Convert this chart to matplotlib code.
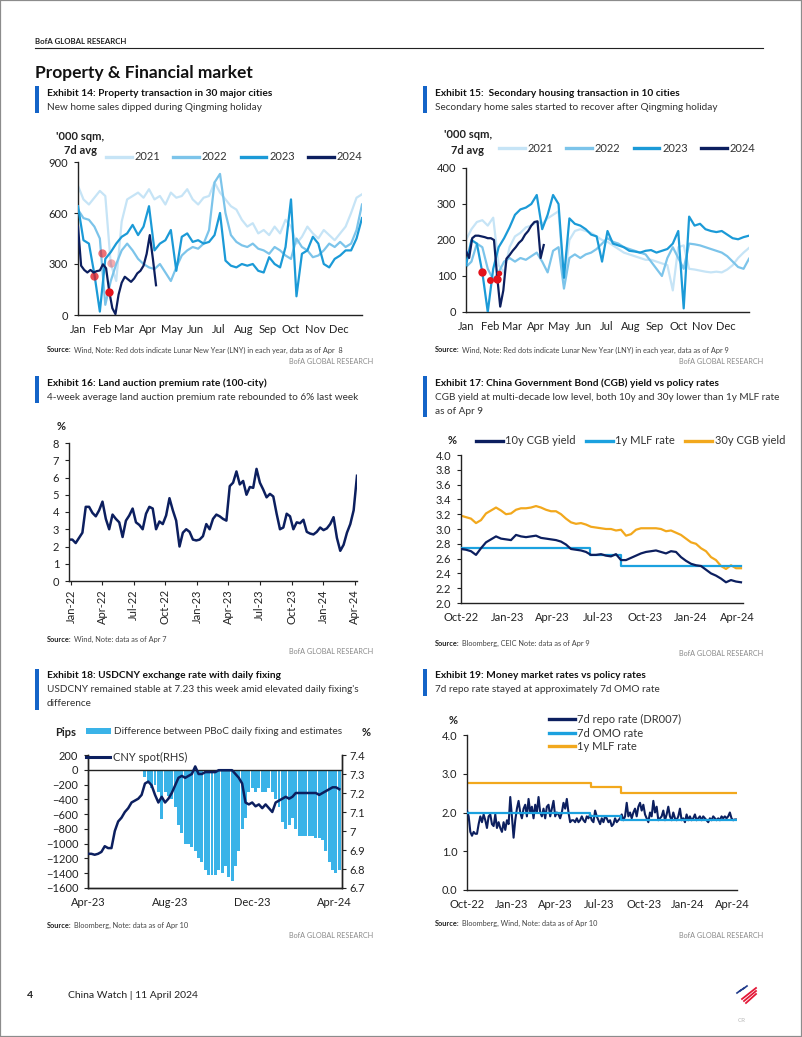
import matplotlib
matplotlib.use("Agg")
import numpy as np
import pandas as pd
import matplotlib.pyplot as plt
import matplotlib.dates as mdates
from matplotlib.patches import Rectangle, Patch
from matplotlib.lines import Line2D
from matplotlib.ticker import FuncFormatter

# ---------------- data ----------------
# Exhibit 14: new home sales, 30 cities, '000 sqm 7d avg (weekly samples, 2024 every 4 days)
prop_2021 = [760, 680, 650, 690, 730, 700, 300, 200, 550, 680, 700, 720, 690, 740, 680, 700, 650, 720,
             690, 700, 740, 680, 650, 690, 700, 780, 720, 680, 640, 620, 560, 520, 540, 480, 500, 470,
             520, 480, 560, 520, 420, 460, 520, 480, 450, 500, 470, 440, 480, 520, 600, 690, 710]
prop_2022 = [620, 570, 560, 520, 450, 60, 200, 300, 380, 420, 380, 330, 300, 280, 270, 300, 250, 200,
             280, 350, 380, 400, 390, 420, 500, 780, 830, 600, 470, 430, 410, 400, 420, 390, 380, 360,
             400, 380, 350, 330, 450, 400, 380, 340, 350, 380, 420, 400, 430, 400, 420, 500, 650]
prop_2023 = [640, 440, 420, 240, 20, 330, 370, 420, 460, 480, 530, 470, 520, 640, 380, 420, 440, 500,
             260, 460, 480, 430, 440, 420, 430, 470, 600, 320, 290, 280, 300, 290, 300, 260, 250, 340,
             300, 280, 400, 680, 110, 360, 380, 460, 420, 300, 280, 330, 350, 380, 380, 450, 570]
prop_2024 = [520, 290, 265, 250, 265, 250, 258, 262, 298, 275, 140, 40, 5, 120, 190, 225, 210, 195,
             215, 245, 260, 290, 360, 470, 330, 175]
lny_days = ["2023-02-12", "2023-02-01", "2023-01-22", "2023-02-10"]   # LNY of 2021..2024 on one calendar
lny_prop = [303, 362, 231, 137]

# Exhibit 15: secondary housing, 10 cities
sec_2021 = [200, 230, 250, 255, 240, 262, 130, 110, 180, 210, 220, 235, 240, 250, 245, 260, 270, 280,
            80, 200, 225, 230, 225, 220, 210, 200, 195, 185, 175, 165, 160, 155, 150, 145, 145, 140,
            135, 130, 60, 180, 185, 120, 118, 115, 112, 110, 112, 110, 118, 130, 150, 165, 178]
sec_2022 = [125, 140, 190, 180, 120, 90, 110, 140, 150, 140, 150, 145, 155, 165, 140, 110, 170, 180,
            65, 150, 160, 150, 160, 165, 175, 190, 205, 195, 190, 180, 175, 170, 165, 160, 140, 120,
            100, 150, 180, 150, 120, 190, 188, 185, 180, 175, 170, 165, 155, 140, 125, 120, 148]
sec_2023 = [130, 200, 190, 110, 0, 120, 180, 205, 235, 270, 285, 290, 300, 325, 230, 270, 325, 300,
            95, 260, 245, 240, 230, 215, 210, 140, 225, 190, 185, 180, 170, 168, 165, 170, 172, 165,
            170, 175, 190, 225, 10, 265, 240, 245, 230, 225, 222, 225, 215, 205, 202, 208, 212]
sec_2024 = [170, 150, 205, 212, 212, 210, 208, 205, 205, 200, 100, 15, 60, 148, 158, 170, 180, 192,
            200, 215, 225, 240, 250, 252, 150, 186]
lny_sec = [107, 90, 112, 92]
years = ["2021", "2022", "2023", "2024"]

# Exhibit 16: land auction premium rate, %, 4w avg
land_premium = [2.4, 2.4, 2.2, 2.5, 2.8, 4.3, 4.3, 3.95, 3.75, 4.1, 4.6, 3.6, 3.0, 3.85, 3.6, 3.4, 2.55,
                3.5, 3.8, 4.2, 3.4, 3.25, 3.0, 3.9, 4.3, 4.2, 3.0, 3.45, 3.3, 3.8, 4.8, 4.1, 3.5, 2.0,
                2.8, 3.0, 2.85, 2.4, 2.35, 2.4, 2.6, 3.3, 3.0, 3.6, 3.85, 3.75, 3.6, 3.5, 5.5, 5.7,
                6.35, 5.6, 5.8, 5.0, 5.45, 5.4, 6.5, 5.7, 5.3, 4.85, 5.05, 4.9, 3.9, 3.0, 3.1, 3.9,
                3.75, 3.0, 3.4, 3.35, 3.55, 2.85, 2.75, 2.7, 2.85, 3.1, 2.95, 3.05, 3.3, 3.7, 2.5,
                1.75, 2.1, 2.8, 3.3, 4.1, 6.1]

# Exhibit 17: CGB yields vs MLF, %
cgb_10y = [2.73, 2.72, 2.70, 2.65, 2.74, 2.82, 2.86, 2.90, 2.87, 2.86, 2.85, 2.92, 2.90, 2.89, 2.90,
           2.91, 2.88, 2.87, 2.86, 2.85, 2.83, 2.79, 2.73, 2.72, 2.71, 2.69, 2.65, 2.65, 2.66, 2.64,
           2.63, 2.66, 2.58, 2.58, 2.61, 2.64, 2.67, 2.69, 2.70, 2.71, 2.69, 2.67, 2.70, 2.69, 2.62,
           2.57, 2.53, 2.51, 2.50, 2.45, 2.40, 2.37, 2.33, 2.28, 2.31, 2.29, 2.28]
cgb_30y = [3.18, 3.16, 3.14, 3.08, 3.12, 3.21, 3.25, 3.29, 3.25, 3.20, 3.21, 3.26, 3.28, 3.28, 3.29,
           3.31, 3.29, 3.26, 3.24, 3.24, 3.20, 3.14, 3.09, 3.07, 3.08, 3.06, 3.03, 3.02, 3.01, 3.00,
           3.00, 2.98, 2.99, 2.91, 2.93, 2.99, 3.01, 3.01, 3.01, 3.01, 3.00, 2.97, 2.98, 2.95, 2.92,
           2.87, 2.82, 2.80, 2.74, 2.70, 2.62, 2.58, 2.50, 2.46, 2.51, 2.47, 2.47]
mlf_dates = ["2022-10-01", "2023-06-15", "2023-08-15", "2024-04-10"]
mlf_rate = [2.75, 2.65, 2.50, 2.50]

# Exhibit 18: USDCNY and fixing gap
fix_gap = [0, 0, -5, 0, 0, -5, 0, 0, -5, 0, 0, 0, -5, 0, 0, -5, 0,
           -100, -150, -250, -200, -300, -660, -300, -350, -400, -500, -750, -850, -1000, -1000,
           -1050, -1100, -1200, -1250, -1350, -1420, -1420, -1420, -1350, -1400, -1300, -1450, -1500,
           -1300, -1100, -800, -650, -300, -250, -300, -250, -300, -300, -250, -300, -400, -500,
           -700, -800, -750, -650, -800, -900, -900, -900, -900, -900, -920, -920, -950, -1100,
           -1250, -1350, -1400, -1350]
cny_spot = [6.88, 6.88, 6.875, 6.88, 6.89, 6.92, 6.91, 6.91, 7.00, 7.05, 7.07, 7.10, 7.12, 7.15, 7.16,
            7.17, 7.19, 7.25, 7.26, 7.24, 7.19, 7.15, 7.18, 7.15, 7.17, 7.20, 7.24, 7.28, 7.29, 7.28,
            7.29, 7.30, 7.34, 7.30, 7.30, 7.31, 7.31, 7.31, 7.31, 7.32, 7.32, 7.32, 7.32, 7.32, 7.30,
            7.28, 7.25, 7.15, 7.14, 7.15, 7.13, 7.14, 7.12, 7.14, 7.12, 7.10, 7.15, 7.16, 7.17, 7.18,
            7.17, 7.18, 7.20, 7.20, 7.20, 7.20, 7.20, 7.20, 7.20, 7.19, 7.20, 7.21, 7.22, 7.23, 7.23,
            7.22]

# Exhibit 19: money market rates, %
dr007 = [2.05, 1.9, 1.5, 1.4, 1.5, 1.45, 1.45, 1.7, 1.9, 1.75, 1.95, 1.8, 1.6, 1.9, 1.95, 1.7, 1.65,
         1.95, 1.6, 1.75, 1.6, 1.5, 1.75, 1.55, 1.8, 1.7, 2.4, 1.9, 1.35, 1.8, 2.1, 2.3, 2.0, 1.85,
         2.1, 2.2, 1.9, 2.35, 2.0, 2.15, 1.85, 2.2, 2.0, 2.4, 2.0, 1.9, 2.1, 1.85, 2.15, 2.2, 1.9,
         2.1, 2.3, 1.9, 2.0, 1.95, 1.85, 2.0, 2.25, 2.1, 2.35, 2.0, 1.75, 1.8, 1.8, 1.75, 1.85, 1.75,
         1.8, 1.9, 1.8, 1.75, 1.9, 1.85, 1.95, 1.8, 1.75, 2.05, 1.9, 1.8, 1.7, 1.85, 1.75, 1.9,
         1.85, 1.75, 1.8, 1.65, 1.7, 1.85, 1.75, 1.8, 1.85, 1.95, 1.8, 1.9, 2.25, 1.9, 2.0, 1.85,
         2.0, 2.1, 1.9, 2.15, 2.25, 2.05, 2.2, 1.95, 1.85, 1.75, 2.0, 1.9, 2.3, 2.0, 2.15, 1.8,
         1.85, 1.9, 2.05, 1.8, 1.95, 2.15, 1.9, 1.8, 2.0, 1.85, 1.8, 1.9, 2.1, 1.8, 1.85, 1.75,
         1.95, 1.8, 1.9, 1.8, 1.85, 1.95, 1.8, 1.85, 1.9, 1.8, 1.9, 1.85, 1.8, 1.75, 1.85, 1.8,
         1.9, 1.85, 1.8, 1.85, 1.8, 1.9, 1.85, 1.9, 1.85, 1.9, 2.0, 1.85, 1.8, 1.82, 1.82]
omo_dates = ["2022-10-01", "2023-06-13", "2023-08-15", "2024-04-10"]
omo_rate = [2.00, 1.90, 1.80, 1.80]

# ---------------- styling ----------------
plt.rcParams["font.family"] = ["Lato", "DejaVu Sans"]
NAVY = "#0c1f5f"
MID = "#1b9ad7"
LIGHT = "#7cc4ea"
PALE = "#c6e4f6"
BRIGHT = "#1ba1df"
ORANGE = "#f2a81d"
BARBLUE = "#3ab3e8"
EXBAR = "#1464c8"
INK = "#222222"
GREY = "#8a8a8a"

W, H = 802, 1037
fig = plt.figure(figsize=(W / 100, H / 100), dpi=100)
renderer = fig.canvas.get_renderer()


def fx(x):
    return x / W


def fy(y):
    return 1 - y / H


def box(l, t, r, b):
    return [l / W, 1 - b / H, (r - l) / W, (b - t) / H]


def txt(x, y, s, **kw):
    kw.setdefault("va", "center")
    kw.setdefault("color", INK)
    return fig.text(fx(x), fy(y), s, **kw)


def exhibit(x, y, title, subs):
    n = len(subs)
    top, bot = y - 7, y + 14 * n + 6
    fig.add_artist(Rectangle((fx(x - 12), fy(bot)), 4 / W, (bot - top) / H,
                             transform=fig.transFigure, color=EXBAR, lw=0))
    txt(x, y, title, fontsize=7.3, fontweight="bold", color="#111111")
    for i, s in enumerate(subs):
        txt(x, y + 14 * (i + 1), s, fontsize=7.2, color="#333333")


def source(x, y, rest):
    t = txt(x, y, "Source:", fontsize=5.3, fontweight="bold")
    bb = t.get_window_extent(renderer)
    fig.text((bb.x1 + 2) / W, fy(y), rest, fontsize=5.3, va="center", color="#444444")


def credit(xr, y):
    txt(xr, y, "BofA GLOBAL RESEARCH", ha="right", fontsize=5.2, color=GREY)


def style(ax, right=False):
    ax.spines["top"].set_visible(False)
    ax.spines["right"].set_visible(right)
    for s in ax.spines.values():
        s.set_color(INK)
        s.set_linewidth(1.0)
    ax.tick_params(labelsize=8, length=3, width=0.8, pad=4, colors=INK)
    ax.set_facecolor("none")


def leg(handles, labels, x, y, ncol, **kw):
    opts = dict(loc="center left", bbox_to_anchor=(fx(x), fy(y)), frameon=False, fontsize=8,
                handlelength=2.3, handletextpad=0.25, columnspacing=1.2, borderpad=0,
                borderaxespad=0, labelcolor="#333333")
    opts.update(kw)
    return fig.legend(handles, labels, ncol=ncol, **opts)


# ---------------- page furniture ----------------
fig.add_artist(Rectangle((0, 0), 1, 1, fill=False, edgecolor="#8c8c8c", lw=1.6,
                         transform=fig.transFigure))
txt(35, 41, "BofA GLOBAL RESEARCH", fontsize=5.6, fontweight="bold")
fig.add_artist(Line2D([fx(35), fx(763)], [fy(48), fy(48)], color=INK, lw=0.8))
txt(35, 73, "Property & Financial market", fontsize=12.5, fontweight="bold", color="#111111")

# ---------------- Exhibit 14 ----------------
exhibit(47, 93, "Exhibit 14: Property transaction in 30 major cities",
        ["New home sales dipped during Qingming holiday"])
ax = fig.add_axes(box(78, 162, 362, 315))
style(ax)
weekly = lambda v: pd.date_range("2023-01-01", periods=len(v), freq="7D")
four = lambda v: pd.date_range("2023-01-01", periods=len(v), freq="4D")
for vals, c, z in ((prop_2021, PALE, 1), (prop_2022, LIGHT, 2), (prop_2023, MID, 3)):
    ax.plot(weekly(vals), vals, color=c, lw=1.6, zorder=z)
ax.plot(four(prop_2024), prop_2024, color=NAVY, lw=1.6, zorder=5)
for d, v, a, z in zip(lny_days, lny_prop, (0.35, 0.6, 0.75, 1.0), (1.5, 2.5, 3.5, 6)):
    ax.plot(pd.Timestamp(d), v, "o", color="#e3121b", alpha=a, ms=6, mec="none", zorder=z)
months = pd.date_range("2023-01-01", "2023-12-01", freq="MS")
ax.set_xlim(pd.Timestamp("2023-01-01"), pd.Timestamp("2023-12-31"))
ax.set_ylim(0, 900)
ax.set_yticks([0, 300, 600, 900])
ax.set_xticks(months)
ax.xaxis.set_major_formatter(mdates.DateFormatter("%b"))
ax.tick_params(axis="x", length=0, pad=6.5)
txt(80, 137, "'000 sqm,", ha="center", fontsize=8, fontweight="bold")
txt(80, 151, "7d avg", ha="center", fontsize=8, fontweight="bold")
hl = [Line2D([], [], color=c, lw=2.4) for c in (PALE, LIGHT, MID, NAVY)]
leg(hl, years, 106, 157, 4)
source(47, 350, "Wind, Note: Red dots indicate Lunar New Year (LNY) in each year, data as of Apr  8")
credit(373, 362)

# ---------------- Exhibit 15 ----------------
exhibit(435, 93, "Exhibit 15:  Secondary housing transaction in 10 cities",
        ["Secondary home sales started to recover after Qingming holiday"])
ax = fig.add_axes(box(466, 168, 749, 312))
style(ax)
for vals, c, z in ((sec_2021, PALE, 1), (sec_2022, LIGHT, 2), (sec_2023, MID, 3)):
    ax.plot(weekly(vals), vals, color=c, lw=1.6, zorder=z)
ax.plot(four(sec_2024), sec_2024, color=NAVY, lw=1.6, zorder=5)
for d, v, ms in zip(lny_days, lny_sec, (4, 5, 6, 6)):
    ax.plot(pd.Timestamp(d), v, "o", color="#e3121b", ms=ms, mec="none", zorder=6)
ax.set_xlim(pd.Timestamp("2023-01-01"), pd.Timestamp("2023-12-31"))
ax.set_ylim(0, 400)
ax.set_yticks([0, 100, 200, 300, 400])
ax.set_xticks(months)
ax.xaxis.set_major_formatter(mdates.DateFormatter("%b"))
ax.tick_params(axis="x", length=0, pad=6.5)
txt(468, 135, "'000 sqm,", ha="center", fontsize=8, fontweight="bold")
txt(468, 150, "7d avg", ha="center", fontsize=8, fontweight="bold")
leg(hl, years, 499, 148, 4)
source(435, 350, "Wind, Note: Red dots indicate Lunar New Year (LNY) in each year, data as of Apr 9")
credit(763, 362)

# ---------------- Exhibit 16 ----------------
exhibit(47, 383, "Exhibit 16: Land auction premium rate (100-city)",
        ["4-week average land auction premium rate rebounded to 6% last week"])
ax = fig.add_axes(box(69, 443, 357, 581))
style(ax)
d16 = pd.date_range("2021-12-26", "2024-04-07", periods=len(land_premium))
ax.plot(d16, land_premium, color=NAVY, lw=1.8)
ax.set_xlim(pd.Timestamp("2021-12-26"), pd.Timestamp("2024-04-07"))
ax.set_ylim(0, 8)
ax.set_yticks(range(0, 9))
ax.set_xticks(pd.date_range("2022-01-01", "2024-04-01", freq="QS"))
ax.xaxis.set_major_formatter(mdates.DateFormatter("%b-%y"))
ax.tick_params(axis="x", rotation=90, pad=3)
txt(61, 427, "%", ha="center", fontsize=8, fontweight="bold")
source(47, 639, "Wind, Note: data as of Apr 7")
credit(373, 651)

# ---------------- Exhibit 17 ----------------
exhibit(435, 383, "Exhibit 17: China Government Bond (CGB) yield vs policy rates",
        ["CGB yield at multi-decade low level, both 10y and 30y lower than 1y MLF rate",
         "as of Apr 9"])
ax = fig.add_axes(box(461, 455, 743, 603))
style(ax)
d17a = pd.date_range("2022-10-01", "2024-04-09", periods=len(cgb_30y))
d17b = pd.date_range("2022-10-01", "2024-04-09", periods=len(cgb_10y))
ax.plot(d17a, cgb_30y, color=ORANGE, lw=1.6, zorder=2)
ax.plot(pd.to_datetime(mlf_dates), mlf_rate, color=BRIGHT, lw=1.6, drawstyle="steps-post", zorder=3)
ax.plot(d17b, cgb_10y, color=NAVY, lw=1.6, zorder=4)
ax.set_xlim(pd.Timestamp("2022-10-01"), pd.Timestamp("2024-04-13"))
ax.set_ylim(2.0, 4.0)
ax.set_yticks(np.arange(2.0, 4.01, 0.2))
ax.yaxis.set_major_formatter(FuncFormatter(lambda v, p: f"{v:.1f}"))
qs = pd.date_range("2022-10-01", "2024-04-01", freq="QS")
ax.set_xticks(qs)
ax.xaxis.set_major_formatter(mdates.DateFormatter("%b-%y"))
ax.tick_params(axis="x", length=0, pad=6.5)
txt(452, 440, "%", ha="center", fontsize=8, fontweight="bold")
h17 = [Line2D([], [], color=c, lw=2.4) for c in (NAVY, BRIGHT, ORANGE)]
leg(h17, ["10y CGB yield", "1y MLF rate", "30y CGB yield"], 476, 441, 3,
    handlelength=2.4, columnspacing=0.9)
source(435, 643, "Bloomberg, CEIC Note: data as of Apr 9")
credit(763, 654)

# ---------------- Exhibit 18 ----------------
exhibit(47, 676, "Exhibit 18: USDCNY exchange rate with daily fixing",
        ["USDCNY remained stable at 7.23 this week amid elevated daily fixing's", "difference"])
ax = fig.add_axes(box(88, 755, 342, 888))
style(ax, right=True)
d18 = pd.date_range("2023-04-01", "2024-04-09", periods=len(fix_gap))
ax.bar(d18, fix_gap, width=4.4, color=BARBLUE, lw=0, zorder=1)
ax.axhline(0, color=INK, lw=1.0, zorder=3)
ax.set_xlim(pd.Timestamp("2023-04-01"), pd.Timestamp("2024-04-13"))
ax.set_ylim(-1600, 200)
ax.set_yticks(range(-1600, 201, 200))
ax.set_xticks(pd.to_datetime(["2023-04-01", "2023-08-01", "2023-12-01", "2024-04-01"]))
ax.xaxis.set_major_formatter(mdates.DateFormatter("%b-%y"))
ax.tick_params(axis="x", length=0, pad=6.5)
ax2 = ax.twinx()
style(ax2, right=True)
d18s = pd.date_range("2023-04-01", "2024-04-09", periods=len(cny_spot))
ax2.plot(d18s, cny_spot, color=NAVY, lw=1.8, zorder=4)
ax2.set_ylim(6.7, 7.4)
ax2.set_yticks(np.arange(6.7, 7.41, 0.1))
ax2.yaxis.set_major_formatter(FuncFormatter(lambda v, p: f"{round(v, 1):g}"))
ax2.tick_params(axis="y", pad=2)
txt(66, 732, "Pips", ha="center", fontsize=8, fontweight="bold")
txt(366, 732, "%", ha="center", fontsize=8, fontweight="bold")
leg([Patch(facecolor=BARBLUE, edgecolor="none")],
    ["Difference between PBoC daily fixing and estimates"], 86, 732, 1,
    fontsize=7.2, handlelength=2.5, handleheight=0.6)
leg([Line2D([], [], color=NAVY, lw=2.2)], ["CNY spot(RHS)"], 86, 757, 1, handlelength=2.2)
source(47, 925, "Bloomberg, Note: data as of Apr 10")
credit(373, 936)

# ---------------- Exhibit 19 ----------------
exhibit(435, 676, "Exhibit 19: Money market rates vs policy rates",
        ["7d repo rate stayed at approximately 7d OMO rate"])
ax = fig.add_axes(box(467, 735, 737, 890))
style(ax)
d19 = pd.date_range("2022-10-01", "2024-04-10", periods=len(dr007))
ax.plot(pd.to_datetime(mlf_dates), mlf_rate, color=ORANGE, lw=1.6, drawstyle="steps-post", zorder=2)
ax.plot(d19, dr007, color=NAVY, lw=1.5, zorder=3)
ax.plot(pd.to_datetime(omo_dates), omo_rate, color=BRIGHT, lw=1.6, drawstyle="steps-post", zorder=4)
ax.set_xlim(pd.Timestamp("2022-10-01"), pd.Timestamp("2024-04-11"))
ax.set_ylim(0, 4)
ax.set_yticks([0, 1, 2, 3, 4])
ax.yaxis.set_major_formatter(FuncFormatter(lambda v, p: f"{v:.1f}"))
ax.set_xticks(qs)
ax.xaxis.set_major_formatter(mdates.DateFormatter("%b-%y"))
ax.tick_params(axis="x", length=0, pad=6.5)
txt(453, 720, "%", ha="center", fontsize=8, fontweight="bold")
leg([Line2D([], [], color=c, lw=2.4) for c in (NAVY, BRIGHT, ORANGE)],
    ["7d repo rate (DR007)", "7d OMO rate", "1y MLF rate"], 549, 733, 1,
    handlelength=2.3, labelspacing=0.25)
source(435, 923, "Bloomberg, Wind, Note: data as of Apr 10")
credit(763, 935)

# ---------------- footer ----------------
txt(27, 995, "4", fontsize=7.5, fontweight="bold")
txt(68, 995, "China Watch | 11 April 2024", fontsize=7.5)
for i in range(3):
    fig.add_artist(Line2D([fx(737 + 3 * i), fx(741 + 3 * i)], [fy(993 - 2 * i), fy(990 - 2 * i)],
                          color="#1f3a8a", lw=1.2))
    fig.add_artist(Line2D([fx(742 + 2 * i), fx(756)], [fy(999 + 2 * i), fy(988 + 3 * i)],
                          color="#e31837", lw=1.3))
txt(738, 1021, "CR", fontsize=4.5, color="#bbbbbb")

fig.savefig("out.png", dpi=100)
